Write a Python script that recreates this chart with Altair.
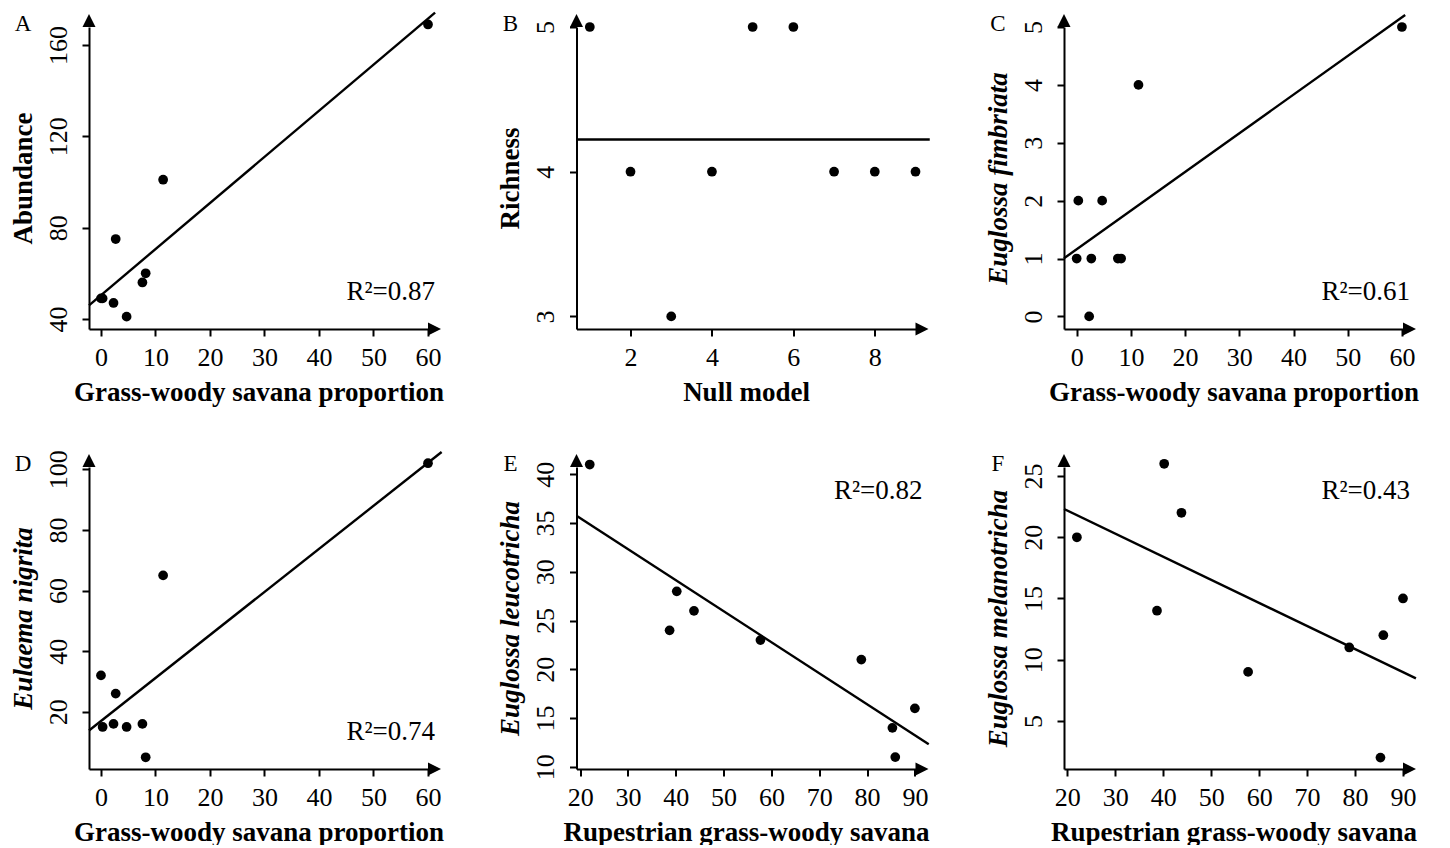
import altair as alt
import pandas as pd

FONT = "Liberation Serif"

# ---- data ----
grass = [0, 0.3, 2.3, 2.7, 4.7, 7.6, 8.2, 11.4, 60]
abundance = [49, 49, 47, 75, 41, 56, 60, 101, 169]
fimbriata = [1, 2, 0, 1, 2, 1, 1, 4, 5]
nigrita = [32, 15, 16, 26, 15, 16, 5, 65, 102]

null_model = [1, 2, 3, 4, 5, 6, 7, 8, 9]
richness = [5, 4, 3, 4, 5, 5, 4, 4, 4]

rupestrian = [22, 38.7, 40.2, 43.8, 57.7, 78.8, 85.3, 85.9, 90]
leucotricha = [41, 24, 28, 26, 23, 21, 14, 11, 16]
melanotricha = [20, 14, 26, 22, 9, 11, 2, 12, 15]

# fitted lines (intercept, slope)
fit_A = (50.4, 2.02)
fit_C = (1.16, 0.0668)
fit_D = (16.95, 1.42)
fit_E = (41.86, -0.318)
fit_F = (25.95, -0.1885)
fit_B = (sum(richness) / len(richness), 0.0)  # null model: mean

r2_labels = {"A": "R²=0.87", "C": "R²=0.61", "D": "R²=0.74", "E": "R²=0.82", "F": "R²=0.43"}

W, H = 339, 302
ARROW_UP = "M0,-2L1,0L-1,0Z"
ARROW_RIGHT = "M2,0L0,-1L0,1Z"


def panel(letter, xs, ys, xdom, ydom, xticks, yticks, xtitle, ytitle, italic,
          line_x, fit, r2=None, r2_top=False):
    df = pd.DataFrame({"x": xs, "y": ys})
    xsc = alt.Scale(domain=xdom, nice=False, zero=False)
    ysc = alt.Scale(domain=ydom, nice=False, zero=False)
    xax = alt.Axis(values=xticks, title=xtitle, labelExpr="format(datum.value, 'd')",
                   labelOverlap=False)
    yax = alt.Axis(values=yticks, title=ytitle, labelAngle=270,
                   labelExpr="format(datum.value, 'd')",
                   labelOverlap=False, labelSeparation=0,
                   titleFontStyle="italic" if italic else "normal")
    X = alt.X("x:Q", scale=xsc, axis=xax)
    Y = alt.Y("y:Q", scale=ysc, axis=yax)

    pts = alt.Chart(df).mark_circle(size=95, color="black", opacity=1).encode(x=X, y=Y)
    ldf = pd.DataFrame({"x": line_x, "y": [fit[0] + fit[1] * v for v in line_x]})
    line = alt.Chart(ldf).mark_line(color="black", strokeWidth=2.4).encode(x=X, y=Y)
    adf = pd.DataFrame({"x": [xdom[0], xdom[1]], "y": [ydom[1], ydom[0]],
                        "s": [ARROW_UP, ARROW_RIGHT]})
    arrows = alt.Chart(adf).mark_point(filled=True, size=169, color="black",
                                       opacity=1, strokeWidth=0).encode(
        x=X, y=Y, shape=alt.Shape("s:N", scale=None))
    let = alt.Chart(pd.DataFrame({"t": [letter]})).mark_text(
        font=FONT, fontSize=23, align="center", baseline="alphabetic", color="black"
    ).encode(text="t:N", x=alt.value(-66), y=alt.value(4))
    layers = [line, pts, arrows, let]
    if r2:
        r = alt.Chart(pd.DataFrame({"t": [r2]})).mark_text(
            font=FONT, fontSize=27, align="right", baseline="alphabetic", color="black"
        ).encode(text="t:N", x=alt.value(W + 7), y=alt.value(32 if r2_top else H - 29))
        layers.append(r)
    return alt.layer(*layers).properties(width=W, height=H)


gx_ticks = [0, 10, 20, 30, 40, 50, 60]
rx_ticks = [20, 30, 40, 50, 60, 70, 80, 90]
g_title = "Grass-woody savana proportion"
r_title = "Rupestrian grass-woody savana"

A = panel("A", grass, abundance, [-2.2, 60.0], [35.6, 167.9], gx_ticks, [40, 80, 120, 160],
          g_title, "Abundance", False, [-2.2, 61.3], fit_A, r2_labels["A"])
B = panel("B", null_model, richness, [0.673, 9.0], [2.913, 5.0], [2, 4, 6, 8], [3, 4, 5],
          "Null model", "Richness", False, [0.673, 9.35], fit_B)
C = panel("C", grass, fimbriata, [-2.34, 60.2], [-0.218, 5.0], gx_ticks, [0, 1, 2, 3, 4, 5],
          g_title, "Euglossa fimbriata", True, [-2.34, 60.6], fit_C, r2_labels["C"])
D = panel("D", grass, nigrita, [-2.2, 60.0], [1.13, 100.76], gx_ticks, [20, 40, 60, 80, 100],
          g_title, "Eulaema nigrita", True, [-2.2, 62.5], fit_D, r2_labels["D"])
E = panel("E", rupestrian, leucotricha, [19.23, 90.13], [9.78, 40.75], rx_ticks,
          [10, 15, 20, 25, 30, 35, 40], r_title, "Euglossa leucotricha", True,
          [19.23, 92.9], fit_E, r2_labels["E"], r2_top=True)
F = panel("F", rupestrian, melanotricha, [19.31, 90.0], [1.07, 25.74], rx_ticks,
          [5, 10, 15, 20, 25], r_title, "Euglossa melanotricha", True,
          [19.31, 92.7], fit_F, r2_labels["F"], r2_top=True)

chart = alt.concat(
    A, B, C, D, E, F, columns=3, bounds="flush",
    spacing=alt.RowColnumber(row=138, column=148.5),
).properties(
    padding={"left": 0, "top": -1, "right": 5, "bottom": 0},
    background="white",
).configure_view(
    stroke=None
).configure_axis(
    grid=False,
    domainColor="black", domainWidth=2,
    tickColor="black", tickWidth=2, tickSize=7,
    labelFont=FONT, labelFontSize=26, labelColor="black",
    labelFlush=False, labelOverlap=False,
    titleFont=FONT, titleFontSize=27, titleFontWeight="bold", titleColor="black",
).configure_axisX(
    labelPadding=8, titlePadding=9,
).configure_axisY(
    labelPadding=11, titlePadding=8,
)

chart.save("out.html", embed_options={"renderer": "svg", "actions": False})
